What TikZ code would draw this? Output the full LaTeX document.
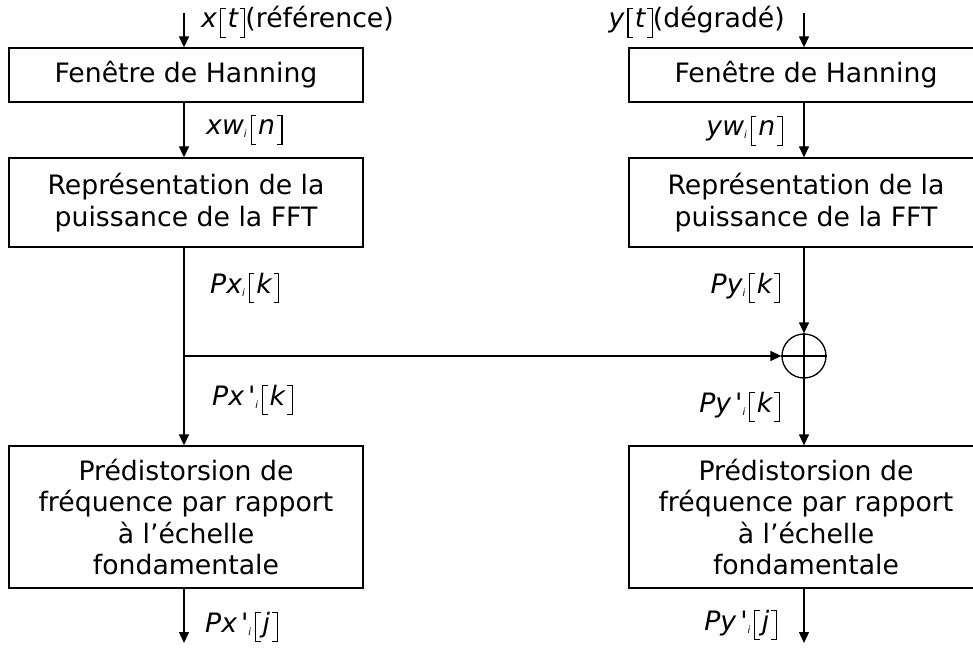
\documentclass[tikz,border=0pt]{standalone}
\usepackage{fontspec}
\setmainfont{DejaVu Sans}[Ligatures=Common]
\usetikzlibrary{arrows.meta}
\newcommand\Lb{\mbox{\vrule width 1.1bp height 20bp depth 10bp\kern-1.1bp\rule[-10bp]{5.5bp}{1.1bp}\kern-5.5bp\rule[18.9bp]{5.5bp}{1.1bp}}}
\newcommand\Rb{\mbox{\rule[-10bp]{5.5bp}{1.1bp}\kern-5.5bp\rule[18.9bp]{5.5bp}{1.1bp}\kern-1.1bp\vrule width 1.1bp height 20bp depth 10bp}}
\newcommand\subi{\raisebox{-3bp}{\fontsize{10}{10}\selectfont\itshape i}}
\newcommand\sig[3]{{\itshape #1}#2\subi\hspace{4bp}\Lb\hspace{2bp}{\itshape #3}\hspace{2bp}\Rb}
\begin{document}
\begin{tikzpicture}[x=1bp,y=-1bp,
  every node/.style={font=\fontsize{26.8}{31.7}\selectfont},
  box/.style={draw,line width=1.3bp,minimum width=354bp,inner sep=0pt,align=center},
  lab/.style={inner sep=0pt},
  arr/.style={line width=1.3bp,-{Triangle[length=11bp,width=10bp]}},
  ln/.style={line width=1.3bp}]
\useasboundingbox (0,0) rectangle (973,648);
\clip (0,0) rectangle (973,648);
% left column
\node[box,minimum height=54bp] (f1) at (186,75) {Fenêtre de Hanning};
\node[box,minimum height=89bp] (p1) at (186,202.5) {Représentation de la\\puissance de la FFT};
\node[box,minimum height=142bp] (d1) at (186,517) {Prédistorsion de\\fréquence par rapport\\à l’échelle\\fondamentale};
% right column
\node[box,minimum height=54bp] (f2) at (806,75) {Fenêtre de Hanning};
\node[box,minimum height=89bp] (p2) at (806,202.5) {Représentation de la\\puissance de la FFT};
\node[box,minimum height=142bp] (d2) at (806,517) {Prédistorsion de\\fréquence par rapport\\à l’échelle\\fondamentale};
% summing junction
\node[circle,draw,line width=1.3bp,minimum size=44bp,inner sep=0pt] (c) at (804,356) {};
\draw[ln] (c.north) -- (c.south);
\draw[ln] (c.west) -- (c.east);
% coordinates
\coordinate (inx) at (184,13);
\coordinate (iny) at (804,13);
\coordinate (jx) at (184,356);
\coordinate (outx) at (184,643);
\coordinate (outy) at (804,643);
% left connectors
\draw[arr] (inx) -- (inx |- f1.north);
\draw[arr] (f1.south -| inx) -- (inx |- p1.north);
\draw[arr] (p1.south -| inx) -- (jx) -- (inx |- d1.north);
\draw[arr] (jx) -- (c.west);
\draw[arr] (d1.south -| inx) -- (outx);
% right connectors
\draw[arr] (iny) -- (iny |- f2.north);
\draw[arr] (f2.south -| iny) -- (iny |- p2.north);
\draw[arr] (p2.south -| iny) -- (c.north);
\draw[arr] (c.south) -- (iny |- d2.north);
\draw[arr] (d2.south -| iny) -- (outy);
% labels
\node[lab,anchor=base west] (lxt) at (201,28) {{\itshape x}\hspace{3bp}\Lb\hspace{2bp}{\itshape t}\hspace{2bp}\Rb(référence)};
\node[lab,anchor=base east] (lyt) at (785,28) {{\itshape y}\hspace{3bp}\Lb\hspace{2bp}{\itshape t}\hspace{2bp}\Rb(dégradé)};
\node[lab,anchor=base west] (lxw) at (206,135) {\sig{xw}{}{n}};
\node[lab,anchor=base east] (lyw) at (783,136) {\sig{yw}{}{n}};
\node[lab,anchor=base west] (lpx) at (210,293) {\sig{Px}{}{k}};
\node[lab,anchor=base east] (lpy) at (780,293) {\sig{Py}{}{k}};
\node[lab,anchor=base west] (lpxp) at (212,405) {\sig{Px}{\hspace{4bp}\textquotesingle}{k}};
\node[lab,anchor=base east] (lpyp) at (780,412) {\sig{Py}{\hspace{4bp}\textquotesingle}{k}};
\node[lab,anchor=base west] (lpxj) at (205,632) {\sig{Px}{\hspace{4bp}\textquotesingle}{j}};
\node[lab,anchor=base east] (lpyj) at (777,630) {\sig{Py}{\hspace{4bp}\textquotesingle}{j}};
\end{tikzpicture}
\end{document}
